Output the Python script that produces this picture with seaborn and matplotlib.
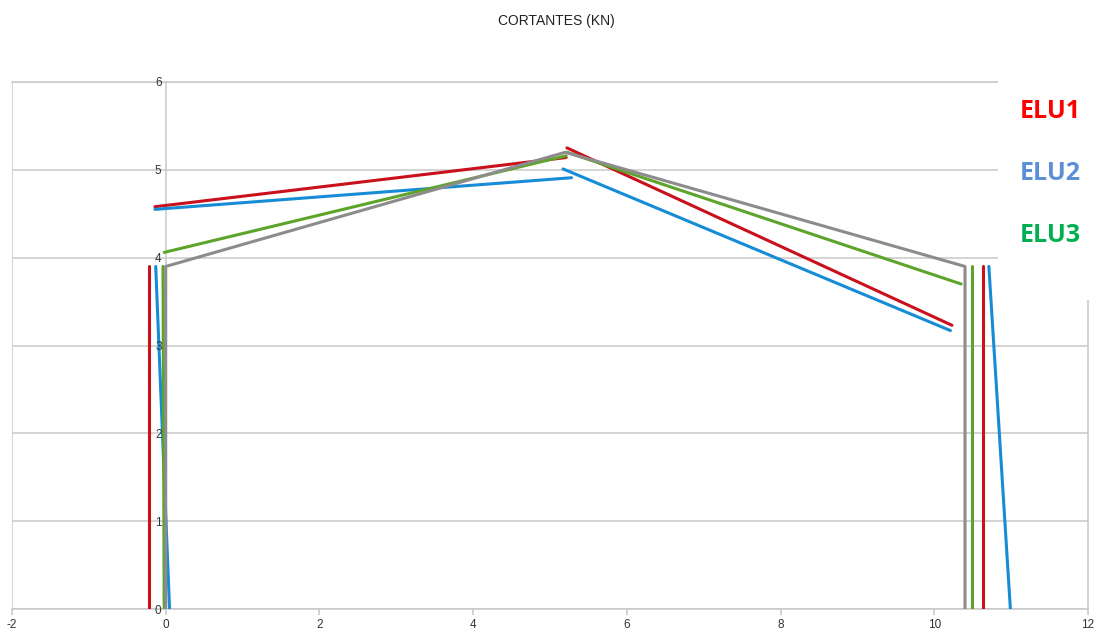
import matplotlib
matplotlib.use("Agg")
import matplotlib.pyplot as plt
import seaborn as sns
import pandas as pd

# Portico geometry (columns and rafters)
frame_x = [0.0, 0.0, 5.2, 10.4, 10.4]
frame_y = [0.0, 3.9, 5.2, 3.9, 0.0]

# Shear diagrams per load combination, one list of segments each: (x0, y0, x1, y1)
elu1_segments = [
    (-0.22, 0.0, -0.22, 3.9),
    (-0.14, 4.58, 5.21, 5.14),
    (5.22, 5.25, 10.23, 3.23),
    (10.63, 3.9, 10.63, 0.0),
]
elu2_segments = [
    (0.05, 0.0, -0.13, 3.9),
    (-0.14, 4.55, 5.28, 4.91),
    (5.17, 5.01, 10.21, 3.17),
    (10.71, 3.9, 10.99, 0.0),
]
elu3_segments = [
    (-0.02, 0.0, -0.035, 3.9),
    (-0.02, 4.06, 5.21, 5.16),
    (5.22, 5.20, 10.35, 3.70),
    (10.49, 3.9, 10.49, 0.0),
]

series = {"ELU1": elu1_segments, "ELU2": elu2_segments, "ELU3": elu3_segments}
line_colors = {"ELU1": "#c9101c", "ELU2": "#168bd6", "ELU3": "#5da52a", "Pórtico": "#8c8c8c"}
label_colors = {"ELU1": "#ff0000", "ELU2": "#5b8fd6", "ELU3": "#00b050"}

rows = []
for name, segs in series.items():
    for k, (x0, y0, x1, y1) in enumerate(segs):
        rows.append((name, f"{name}-{k}", x0, y0, 0))
        rows.append((name, f"{name}-{k}", x1, y1, 1))
for i, (fx, fy) in enumerate(zip(frame_x, frame_y)):
    rows.append(("Pórtico", "frame", fx, fy, i))
df = pd.DataFrame(rows, columns=["serie", "seg", "x", "y", "order"])

sns.set_style("white")
plt.rcParams["font.family"] = ["Liberation Sans", "DejaVu Sans"]
plt.rcParams["axes.unicode_minus"] = False

W, H = 1101, 633
fig = plt.figure(figsize=(W / 100, H / 100), dpi=100)
ax = fig.add_axes([12 / W, 1 - 609 / H, (1088 - 12) / W, (609 - 82) / H])

grid_c = "#c8c8c8"
for yv in range(0, 7):
    ax.axhline(yv, color=grid_c, lw=1.1, zorder=0)
ax.axvline(-2, color=grid_c, lw=1.1, zorder=0)

for name in ["ELU1", "ELU2", "ELU3", "Pórtico"]:
    sub = df[df["serie"] == name]
    sns.lineplot(data=sub, x="x", y="y", units="seg", estimator=None, sort=False,
                 color=line_colors[name], lw=2.2, ax=ax, legend=False, zorder=2)

ax.set_xlim(-2, 12)
ax.set_ylim(0, 6)
ax.set_xticks(range(-2, 13, 2))
ax.set_yticks(range(0, 7))
ax.set_xlabel("")
ax.set_ylabel("")
ax.set_axisbelow(False)

for s in ["top", "right", "bottom", "left"]:
    ax.spines[s].set_color(grid_c)
    ax.spines[s].set_linewidth(1.1)
    ax.spines[s].set_zorder(1)
ax.spines["left"].set_position(("data", 0))
ax.tick_params(axis="y", length=0, pad=3, labelsize=8.5, labelcolor="#333333")
ax.tick_params(axis="x", length=4, width=1.1, color=grid_c, pad=3,
               labelsize=8.5, labelcolor="#333333", direction="out", bottom=True)
ax.grid(False)

fig.text(556 / W, 1 - 21 / H, "CORTANTES (KN)", ha="center", va="center",
         fontsize=10, color="#222222")

# Labels panel on the right
lab_ax = fig.add_axes([998 / W, 1 - 300 / H, (W - 998) / W, 300 / H])
lab_ax.set_xlim(0, 1)
lab_ax.set_ylim(0, 1)
lab_ax.axis("off")
lab_ax.add_patch(plt.Rectangle((0, 0), 1, 1, color="white", transform=lab_ax.transAxes))
for name, py in zip(["ELU1", "ELU2", "ELU3"], [111, 173, 236]):
    fig.text(1050 / W, 1 - py / H, name, ha="center", va="center",
             fontsize=18, fontweight="bold", color=label_colors[name],
             family=["Open Sans", "DejaVu Sans"])

fig.savefig("out.png", dpi=100)
